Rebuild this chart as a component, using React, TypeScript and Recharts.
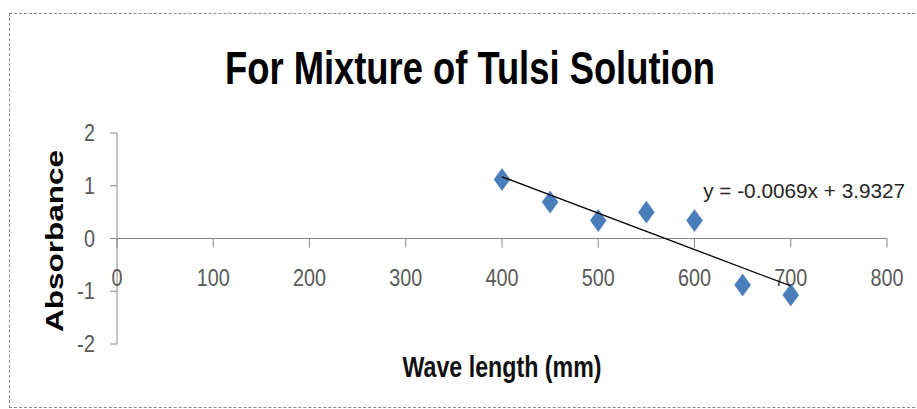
import React from 'react';
import {
  ScatterChart,
  Scatter,
  XAxis,
  YAxis,
  ReferenceLine,
  ReferenceDot,
} from 'recharts';

const wavelengths = [400, 450, 500, 550, 600, 650, 700];
const absorbance = [1.12, 0.69, 0.34, 0.5, 0.34, -0.88, -1.07];
const trendX = [400, 700];
const trendY = [1.17, -0.9];
const xTicks = [0, 100, 200, 300, 400, 500, 600, 700, 800];
const yTicks = [-2, -1, 0, 1, 2];
const equationText = 'y = -0.0069x + 3.9327';
const equationPos = { x: 609, y: 0.76 };

const points = wavelengths.map((w, i) => ({ x: w, y: absorbance[i] }));
const trend = trendX.map((w, i) => ({ x: w, y: trendY[i] }));

const NARROW = "'Liberation Sans Narrow', 'Arial Narrow', 'Liberation Sans', sans-serif";
const TICK_COLOR = '#595959';
const AXIS_COLOR = '#868686';

const labelWidth = (s: string) =>
  s.split('').reduce((acc, ch) => acc + (ch === '-' ? 7 : 11), 0);

const Diamond = (props: any) => {
  const { cx, cy } = props;
  if (cx == null || cy == null) return null;
  const hw = 8;
  const hh = 11;
  return (
    <polygon
      points={`${cx},${cy - hh} ${cx + hw},${cy} ${cx},${cy + hh} ${cx - hw},${cy}`}
      fill="#4A7EBB"
      stroke="#4577B5"
      strokeWidth={0.5}
    />
  );
};

const YTick = (props: any) => {
  const { x, y, payload } = props;
  const s = String(payload.value);
  return (
    <text
      x={x}
      y={y}
      dy="0.355em"
      textAnchor="end"
      fontFamily={NARROW}
      fontSize={23}
      fill={TICK_COLOR}
      textLength={labelWidth(s)}
      lengthAdjust="spacingAndGlyphs"
    >
      {s}
    </text>
  );
};

const makeXTick = (label: number) => (props: any) => {
  const { cx, cy } = props;
  const s = String(label);
  return (
    <g>
      <line x1={cx} y1={cy} x2={cx} y2={cy + 9} stroke={AXIS_COLOR} strokeWidth={1} />
      <text
        x={cx}
        y={cy + 47}
        textAnchor="middle"
        fontFamily={NARROW}
        fontSize={23}
        fill={TICK_COLOR}
        textLength={labelWidth(s)}
        lengthAdjust="spacingAndGlyphs"
      >
        {s}
      </text>
    </g>
  );
};

const EquationShape = (props: any) => {
  const { cx, cy } = props;
  return (
    <text
      x={cx}
      y={cy}
      textAnchor="start"
      fontFamily={NARROW}
      fontSize={21}
      fill="#262626"
      textLength={202}
      lengthAdjust="spacingAndGlyphs"
    >
      {equationText}
    </text>
  );
};

export default function App() {
  return (
    <div
      style={{
        position: 'fixed',
        left: 0,
        top: 0,
        width: 917,
        height: 409,
        overflow: 'hidden',
        background: '#fff',
      }}
    >
      <div
        style={{
          position: 'absolute',
          left: 9,
          top: 13,
          width: 930,
          height: 393,
          borderTop: '1.5px dashed #8a8a8a',
          borderLeft: '1.5px dashed #8a8a8a',
          borderBottom: '1.5px dashed #8a8a8a',
        }}
      />
      <div style={{ position: 'absolute', left: 0, top: 0 }}>
        <ScatterChart
          width={917}
          height={409}
          margin={{ top: 133, right: 30, bottom: 65, left: 57 }}
        >
          <XAxis
            type="number"
            dataKey="x"
            domain={[0, 800]}
            ticks={xTicks}
            hide
          />
          <YAxis
            type="number"
            dataKey="y"
            domain={[-2, 2]}
            ticks={yTicks}
            width={60}
            axisLine={{ stroke: AXIS_COLOR, strokeWidth: 1 }}
            tickLine={{ stroke: AXIS_COLOR, strokeWidth: 1 }}
            tickSize={7}
            tickMargin={15}
            tick={<YTick />}
          />
          <ReferenceLine y={0} stroke={AXIS_COLOR} strokeWidth={1} />
          {xTicks.map((t) => (
            <ReferenceDot
              key={t}
              x={t}
              y={0}
              r={0}
              ifOverflow="visible"
              shape={makeXTick(t)}
            />
          ))}
          <Scatter data={points} shape={<Diamond />} isAnimationActive={false} />
          <Scatter
            data={trend}
            line={{ stroke: '#000', strokeWidth: 1.3 }}
            shape={() => null}
            isAnimationActive={false}
          />
          <ReferenceDot
            x={equationPos.x}
            y={equationPos.y}
            r={0}
            ifOverflow="visible"
            shape={EquationShape}
          />
        </ScatterChart>
      </div>
      <svg
        width={917}
        height={409}
        style={{ position: 'absolute', left: 0, top: 0, pointerEvents: 'none' }}
      >
        <text
          x={470}
          y={84}
          textAnchor="middle"
          fontFamily={NARROW}
          fontWeight="bold"
          fontSize={46}
          fill="#000"
          textLength={490}
          lengthAdjust="spacingAndGlyphs"
        >
          For Mixture of Tulsi Solution
        </text>
        <text
          transform="translate(63,241) rotate(-90)"
          x={0}
          y={0}
          textAnchor="middle"
          fontFamily="'Liberation Sans', Arial, sans-serif"
          fontWeight="bold"
          fontSize={24}
          fill="#000"
          textLength={182}
          lengthAdjust="spacingAndGlyphs"
        >
          Absorbance
        </text>
        <text
          x={502}
          y={377}
          textAnchor="middle"
          fontFamily={NARROW}
          fontWeight="bold"
          fontSize={30}
          fill="#111"
          textLength={199}
          lengthAdjust="spacingAndGlyphs"
        >
          Wave length (mm)
        </text>
      </svg>
    </div>
  );
}
